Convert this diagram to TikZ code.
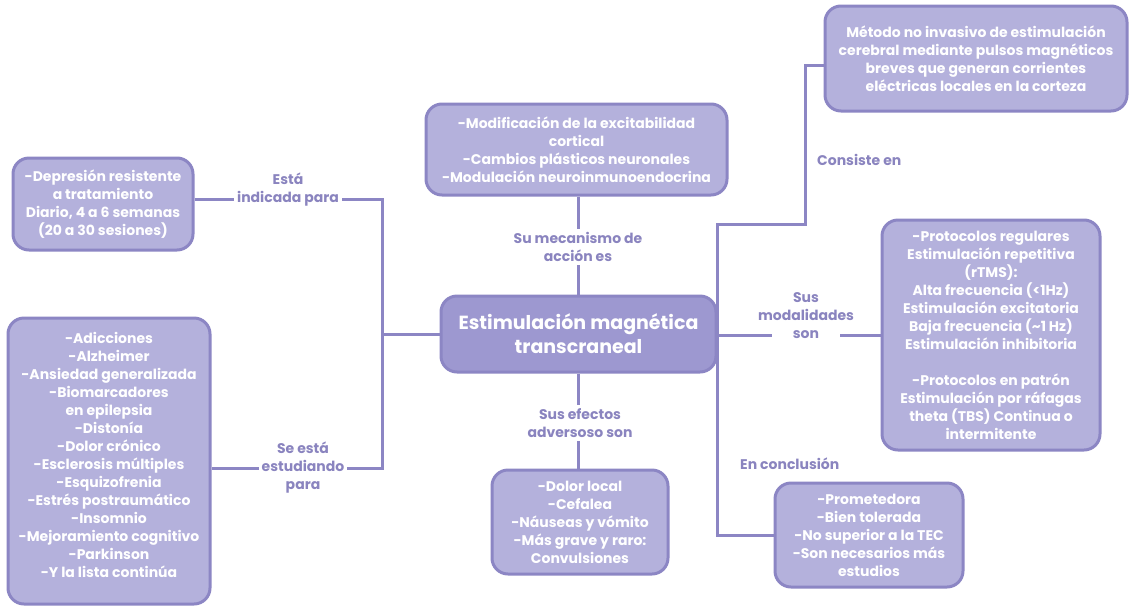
\documentclass[tikz,border=0pt]{standalone}
\usepackage{fontspec}
\setmainfont{Poppins}
\definecolor{boxfill}{HTML}{B4B1DC}
\definecolor{cenfill}{HTML}{9D98D0}
\definecolor{boxline}{HTML}{8C86C4}
\definecolor{labtext}{HTML}{8A84BF}
\tikzset{
  box/.style={draw=boxline, line width=3pt, fill=boxfill, rounded corners=16pt,
    text=white, align=center, inner sep=0pt,
    font=\fontsize{14}{18}\selectfont\bfseries},
  cenbox/.style={box, fill=cenfill, font=\fontsize{19}{24}\selectfont\bfseries},
  conn/.style={draw=boxline, line width=3pt},
  lab/.style={text=labtext, align=center, font=\fontsize{14}{18}\selectfont\bfseries, inner sep=3pt},
  labw/.style={lab, fill=white}
}
\begin{document}
\begin{tikzpicture}[x=1pt,y=-1pt]
\fill[white] (0,0) rectangle (1133,606);
\useasboundingbox (0,0) rectangle (1133,606);

% boxes
\node[box, minimum width=180pt, minimum height=92pt] (dep) at (103,204)
  {-Depresión resistente\\a tratamiento\\Diario, 4 a 6 semanas\\(20 a 30 sesiones)};
\node[box, minimum width=202pt, minimum height=286pt] (adic) at (109,461)
  {-Adicciones\\-Alzheimer\\-Ansiedad generalizada\\-Biomarcadores\\en epilepsia\\-Distonía\\-Dolor crónico\\-Esclerosis múltiples\\-Esquizofrenia\\-Estrés postraumático\\-Insomnio\\-Mejoramiento cognitivo\\-Parkinson\\-Y la lista continúa\\[-6pt]};
\node[box, minimum width=301pt, minimum height=91pt] (mech) at (576.5,149.5)
  {-Modificación de la excitabilidad\\cortical\\-Cambios plásticos neuronales\\-Modulación neuroinmunoendocrina};
\node[cenbox, minimum width=275pt, minimum height=76pt] (cen) at (578.5,334)
  {Estimulación magnética\\transcraneal};
\node[box, minimum width=302pt, minimum height=105pt] (met) at (976,58.5)
  {Método no invasivo de estimulación\\cerebral mediante pulsos magnéticos\\breves que generan corrientes\\eléctricas locales en la corteza};
\node[box, minimum width=218pt, minimum height=230pt] (prot) at (991,335)
  {-Protocolos regulares\\Estimulación repetitiva\\(rTMS):\\Alta frecuencia (<1Hz)\\Estimulación excitatoria\\Baja frecuencia (\textasciitilde1 Hz)\\Estimulación inhibitoria\\[18pt]-Protocolos en patrón\\Estimulación por ráfagas\\theta (TBS) Continua o\\intermitente};
\node[box, minimum width=176pt, minimum height=104pt] (adv) at (580,522)
  {-Dolor local\\-Cefalea\\-Náuseas y vómito\\-Más grave y raro:\\Convulsiones};
\node[box, minimum width=188pt, minimum height=104pt] (conc) at (869,535)
  {-Prometedora\\-Bien tolerada\\-No superior a la TEC\\-Son necesarios más\\estudios};

% junctions
\coordinate (jL1) at (382,199);
\coordinate (jL2) at (382,468);
\coordinate (jR1) at (805,65);
\coordinate (jR2) at (805,224);
\coordinate (jR4) at (716,535);
\coordinate (m1) at (772,335);
\coordinate (m2) at (840,335);

% connectors
\draw[conn] (dep.east |- jL1) -- (jL1) -- (jL2) -- (adic.east |- jL2);
\draw[conn] (jL1 |- cen.west) -- (cen.west);
\draw[conn] (cen.north |- mech.south) -- (cen.north);
\draw[conn] (cen.south) -- (cen.south |- adv.north);
\draw[conn] (met.west |- jR1) -- (jR1) -- (jR2) -- (cen.east |- jR2) -- (cen.east |- jR4) -- (conc.west |- jR4);
\draw[conn] (cen.east |- m1) -- (m1);
\draw[conn] (m2) -- (prot.west |- m2);

% labels
\node[labw] (l1) at (288,190) {Está\\indicada para};
\node[labw] (l2) at (303,468) {Se está\\estudiando\\para};
\node[labw] (l3) at (578,247) {Su mecanismo de\\acción es};
\node[labw] (l4) at (580,423) {Sus efectos\\adversoso son};
\node[lab] (l5) at (806,316) {Sus\\modalidades\\son};
\node[lab, anchor=west] (l6) at (814,160) {Consiste en};
\node[lab, anchor=west] (l7) at (737,464) {En conclusión};
\end{tikzpicture}
\end{document}
